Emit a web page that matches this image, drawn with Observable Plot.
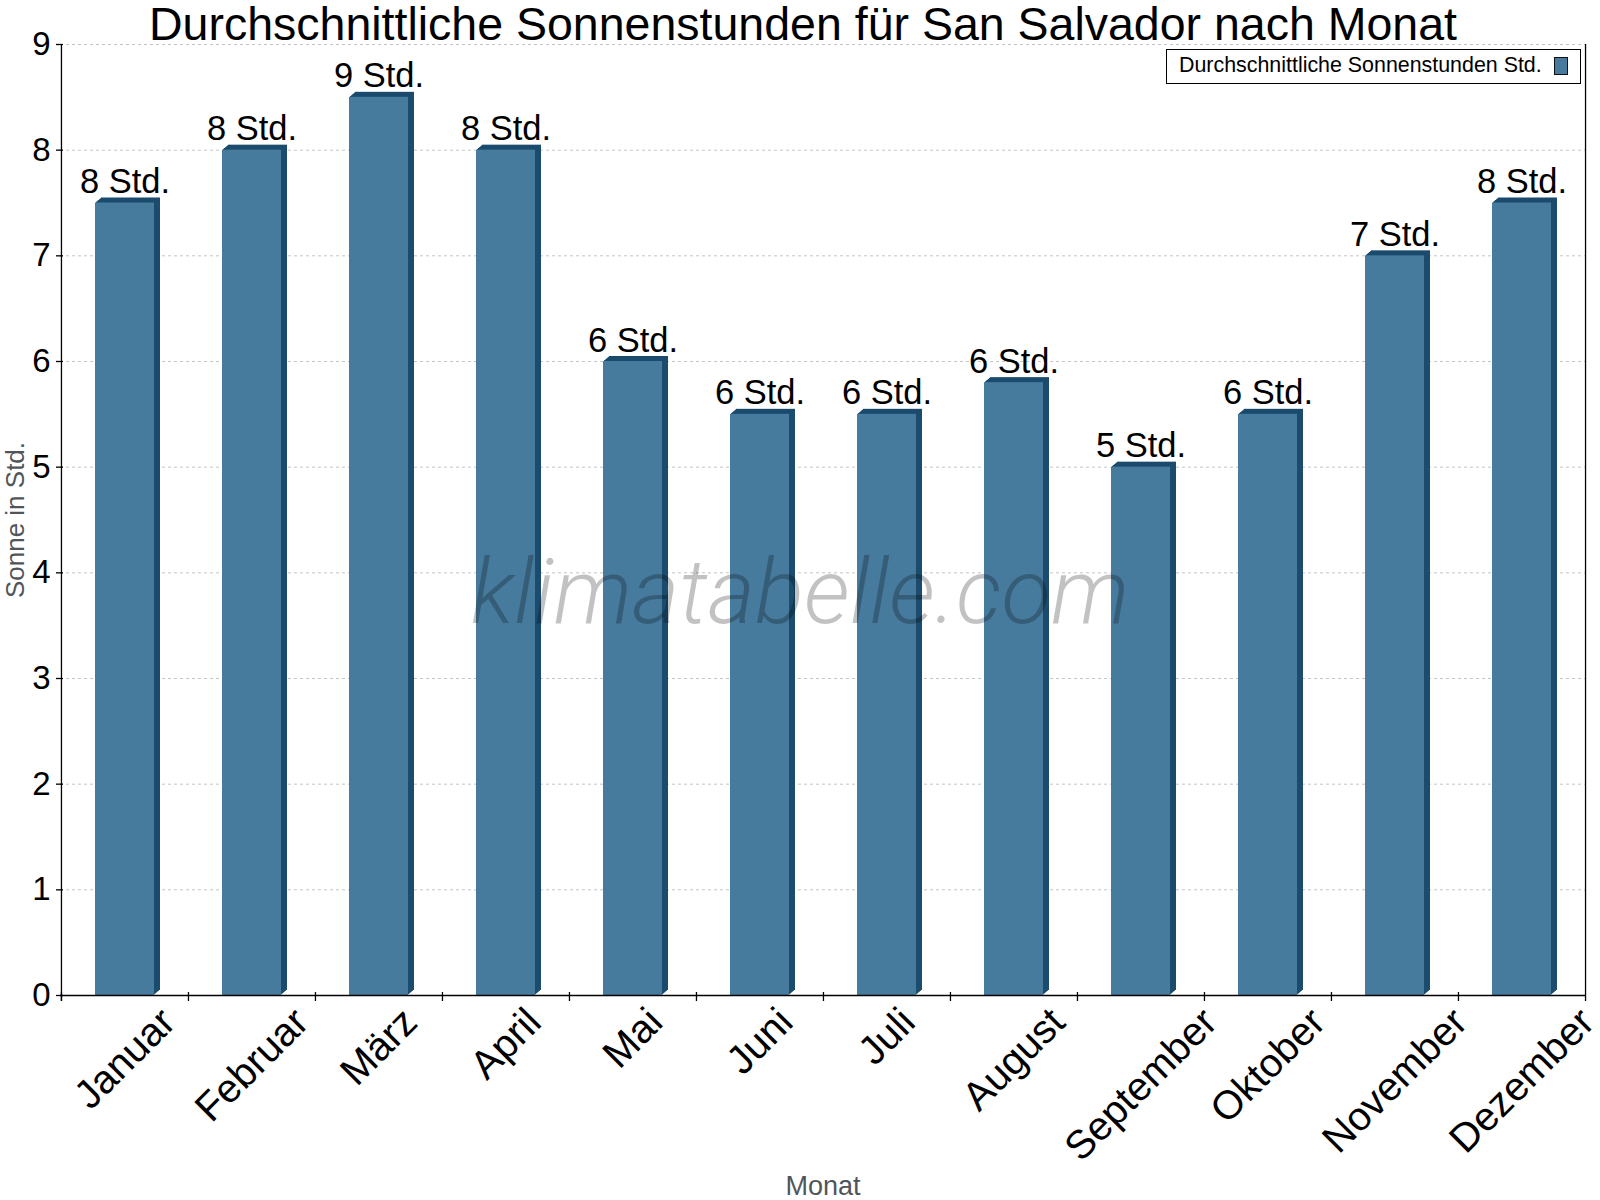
<!DOCTYPE html>
<html><head><meta charset="utf-8">
<script src="https://cdn.jsdelivr.net/npm/d3@7"></script>
<script src="https://cdn.jsdelivr.net/npm/@observablehq/plot@0.6"></script>
<style>
body{margin:0;background:#fff;}
#wrap{position:relative;width:1600px;height:1200px;font-family:"Liberation Sans",Arial,sans-serif;}
#legend{position:absolute;left:1166px;top:49px;width:415px;height:35px;border:1px solid #000;background:#fff;box-sizing:border-box;}
#legend .txt{position:absolute;left:12px;top:3px;font-size:21.4px;line-height:24px;white-space:nowrap;color:#000;}
#legend .sw{position:absolute;left:387px;top:7px;width:14px;height:18px;box-sizing:border-box;border:1.5px solid #111;background:#467b9e;}
</style></head><body><div id="wrap"></div>
<script>
const months = ["Januar","Februar","März","April","Mai","Juni","Juli","August","September","Oktober","November","Dezember"];
const sunHours = [7.5, 8.0, 8.5, 8.0, 6.0, 5.5, 5.5, 5.8, 5.0, 5.5, 7.0, 7.5];
const yTicks = [0, 1, 2, 3, 4, 5, 6, 7, 8, 9];
const titleText = "Durchschnittliche Sonnenstunden für San Salvador nach Monat";
const yLabel = "Sonne in Std.";
const xLabel = "Monat";
const legendLabel = "Durchschnittliche Sonnenstunden Std.";
const watermark = "klimatabelle.com";

const data = months.map((m, i) => ({month: m, value: sunHours[i], label: Math.round(sunHours[i]) + " Std."}));

const W = 1600, H = 1200, mL = 60, mR = 15, mT = 44, mB = 205;
const step = (W - mL - mR) / months.length;
const front = "#467b9e", dark = "#1b4b6d";
const font = "'Liberation Sans', Arial, sans-serif";

const ctx = document.createElement("canvas").getContext("2d");
const xFont = 40;
ctx.font = `${xFont}px ${font}`;

const depthMarks = [];
for (let k = 6; k >= 1; k--) {
  depthMarks.push(Plot.barY(data, {x: "month", y: "value", fill: dark, dx: k, dy: -k * 5 / 6}));
}

const xLabelMarks = months.map(m => {
  const w = ctx.measureText(m).width;
  return Plot.text([m], {x: d => d, frameAnchor: "bottom", text: d => d, rotate: -45,
    textAnchor: "middle", lineAnchor: "middle", fontSize: xFont, fill: "#000",
    dx: 0, dy: 20 + 0.354 * w});
});

const chart = Plot.plot({
  width: W, height: H,
  marginLeft: mL, marginRight: mR, marginTop: mT, marginBottom: mB,
  style: {fontFamily: font, color: "#000", background: "#fff", overflow: "visible"},
  x: {domain: months, paddingInner: 0.536, paddingOuter: 0.268, axis: null},
  y: {domain: [0, 9], axis: null},
  marks: [
    Plot.ruleY(yTicks.filter(v => v > 0), {stroke: "#c4c4c4", strokeDasharray: "3,3", strokeWidth: 1}),
    ...depthMarks,
    Plot.barY(data, {x: "month", y: "value", fill: front}),
    Plot.ruleY([0], {stroke: "#000", strokeWidth: 1.3}),
    Plot.ruleX(months, {x: d => d, dx: -step / 2, stroke: "#000", strokeWidth: 1.3, insetTop: H - mT - mB - 3, insetBottom: -6}),
    Plot.ruleX(["Januar"], {x: d => d, dx: -step / 2, stroke: "#000", strokeWidth: 1.3, insetBottom: -6}),
    Plot.ruleX(["Dezember"], {x: d => d, dx: step / 2, stroke: "#000", strokeWidth: 1.3, insetBottom: -6}),
    Plot.axisY({ticks: yTicks, tickSize: 7, tickPadding: 6, dx: 3, fontSize: 33, label: null, tickFormat: d => String(d), stroke: "#000", strokeWidth: 1.3}),
    Plot.text(data, {x: "month", y: "value", text: "label", dy: -10, lineAnchor: "bottom", fontSize: 34.5, fill: "#000"}),
    ...xLabelMarks,
    Plot.text([titleText], {frameAnchor: "top", text: d => d, dx: -20, dy: -5, lineAnchor: "bottom", fontSize: 46.5, fill: "#000"}),
    Plot.text([yLabel], {frameAnchor: "left", text: d => d, rotate: -90, dx: -37, textAnchor: "middle", lineAnchor: "bottom", fontSize: 26, fill: "#50555a"}),
    Plot.text([xLabel], {frameAnchor: "bottom", text: d => d, dy: 199, lineAnchor: "bottom", fontSize: 27, fill: "#50555a"}),
    Plot.text([watermark], {frameAnchor: "middle", text: d => d, dx: -23, dy: 103, lineAnchor: "bottom", fontSize: 91, fontStyle: "italic", fontWeight: 300, fontFamily: "Roboto, 'Open Sans', sans-serif", fill: "#000", fillOpacity: 0.24})
  ]
});

const wrap = document.getElementById("wrap");
wrap.appendChild(chart);
const legend = document.createElement("div");
legend.id = "legend";
legend.innerHTML = `<span class="txt"></span><span class="sw"></span>`;
legend.querySelector(".txt").textContent = legendLabel;
wrap.appendChild(legend);
</script>
</body></html>
